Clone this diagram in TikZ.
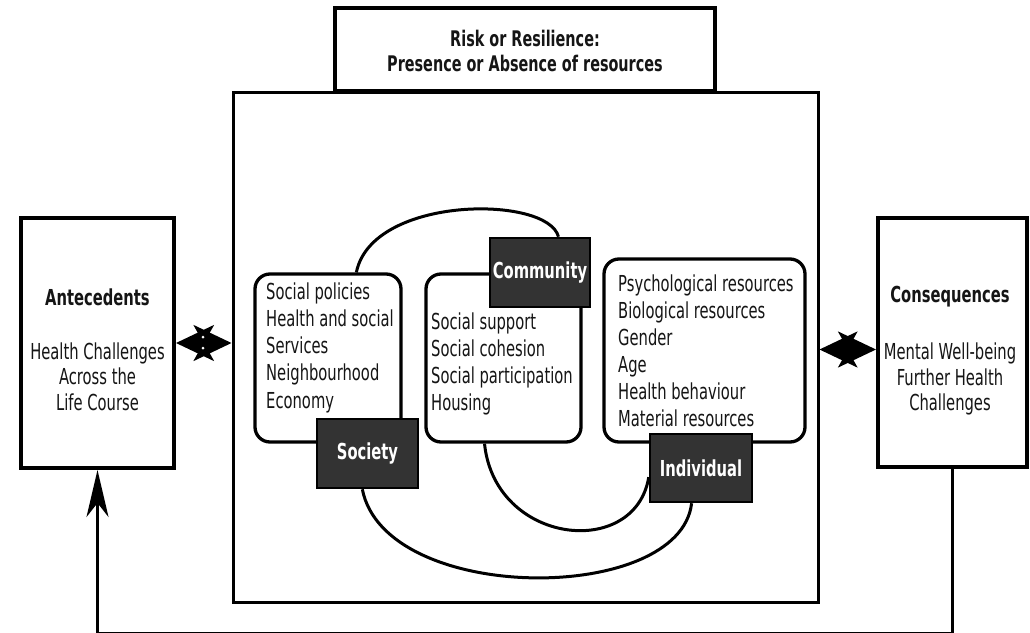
\documentclass[tikz,border=0pt]{standalone}
\usepackage{fontspec}
\setmainfont{DejaVu Sans}[FakeStretch=0.67]
\usetikzlibrary{arrows.meta,calc,backgrounds}
\definecolor{labfill}{HTML}{333333}
\definecolor{ink}{HTML}{151515}
\begin{document}
\begin{tikzpicture}[x=1pt,y=-1pt,
  plainbox/.style={draw, line width=4pt, fill=white, inner sep=0pt},
  outerbox/.style={draw, line width=3pt, inner sep=0pt},
  roundbox/.style={draw, line width=3.3pt, rounded corners=15pt, fill=white, inner sep=0pt},
  darklabel/.style={draw=black, line width=2.5pt, fill=labfill, text=white,
    font=\bfseries\fontsize{22pt}{26pt}\selectfont, inner sep=0pt},
  bodytext/.style={text=ink, font=\fontsize{22pt}{27.2pt}\selectfont, align=left, inner sep=0pt, anchor=base west},
  centertext/.style={text=ink, font=\fontsize{22pt}{25.5pt}\selectfont, align=center, inner sep=0pt, anchor=base},
  headtext/.style={text=ink, font=\bfseries\fontsize{22pt}{26pt}\selectfont, inner sep=0pt, anchor=base},
  titletext/.style={text=ink, font=\bfseries\fontsize{21.5pt}{25.5pt}\selectfont, align=center, inner sep=0pt, anchor=base},
  link/.style={line width=3pt},
  dbl/.style={line width=3pt, {Stealth[length=38pt,width=36pt,inset=10pt]}-{Stealth[length=38pt,width=36pt,inset=10pt]}},
  upconn/.style={line width=3pt, -{Stealth[length=47pt,width=22pt,inset=14pt]}}
]
\useasboundingbox (0,0) rectangle (1030,632);

% outer frame and title
\node[outerbox, minimum width=585pt, minimum height=510pt] (outer) at (525.5,347) {};
\node[draw, line width=3.3pt, fill=white, inner sep=0pt, minimum width=380pt, minimum height=83pt] (title) at (525,49.5) {};
\node[titletext] (ttext) at (525,71.5) {Risk or Resilience:\\Presence or Absence of resources};

% side boxes
\node[plainbox, minimum width=153pt, minimum height=250pt] (ante) at (97.5,343) {};
\node[headtext] (antehead) at (97.5,305) {Antecedents};
\node[centertext] (antebody) at (97.5,410) {Health Challenges\\Across the\\Life Course};

\node[plainbox, minimum width=149pt, minimum height=249pt] (cons) at (952.5,342.5) {};
\node[headtext] (conshead) at (950,302) {Consequences};
\node[centertext] (consbody) at (950,410.5) {Mental Well-being\\Further Health\\Challenges};

% inner rounded boxes
\node[roundbox, minimum width=146pt, minimum height=168pt] (socbox) at (328,358) {};
\node[bodytext] (soctext) at (266,408) {Social policies\\Health and social\\Services\\Neighbourhood\\Economy};

\node[roundbox, minimum width=155pt, minimum height=168pt] (combox) at (503.5,358) {};
\node[bodytext, font=\fontsize{22pt}{26.7pt}\selectfont] (comtext) at (431,410) {Social support\\Social cohesion\\Social participation\\Housing};

\node[roundbox, minimum width=201pt, minimum height=183pt] (indbox) at (704.5,350.5) {};
\node[bodytext, font=\fontsize{22pt}{27pt}\selectfont] (indtext) at (618,426) {Psychological resources\\Biological resources\\Gender\\Age\\Health behaviour\\Material resources};

% dark labels
\node[darklabel, minimum width=101pt, minimum height=69pt] (soclab) at (367.5,453.5) {Society};
\node[darklabel, minimum width=100pt, minimum height=69pt] (comlab) at (540,272.5) {Community};
\node[darklabel, minimum width=102pt, minimum height=68pt] (indlab) at (701,468) {Individual};

% connecting arcs (behind the boxes)
\begin{scope}[on background layer]
\draw[link] ($(socbox.north west)!0.69!(socbox.north east)$)
  .. controls (372,195) and (548,195) .. ($(comlab.north west)!0.68!(comlab.north east)$);
\draw[link] ($(combox.south west)!0.38!(combox.south east)$)
  .. controls (495,545) and (635,560) .. ($(indlab.north west)!0.63!(indlab.south west)$);
\draw[link] ($(soclab.south west)!0.45!(soclab.south east)$)
  .. controls (385,605) and (680,605) .. ($(indlab.south west)!0.41!(indlab.south east)$);
\end{scope}

% double arrows between side boxes and frame
\draw[dbl] (ante.east) -- (ante.east -| outer.west);
\coordinate (rc) at ($(cons.west)+(0,7)$);
\draw[dbl] (rc -| outer.east) -- (rc);
\fill[white] (203,337) circle[radius=1.5pt];
\fill[white] (203,348) circle[radius=1.5pt];

% feedback loop
\draw[upconn] (cons.south) -- ++(0,164) -| (ante.south);
\end{tikzpicture}
\end{document}
